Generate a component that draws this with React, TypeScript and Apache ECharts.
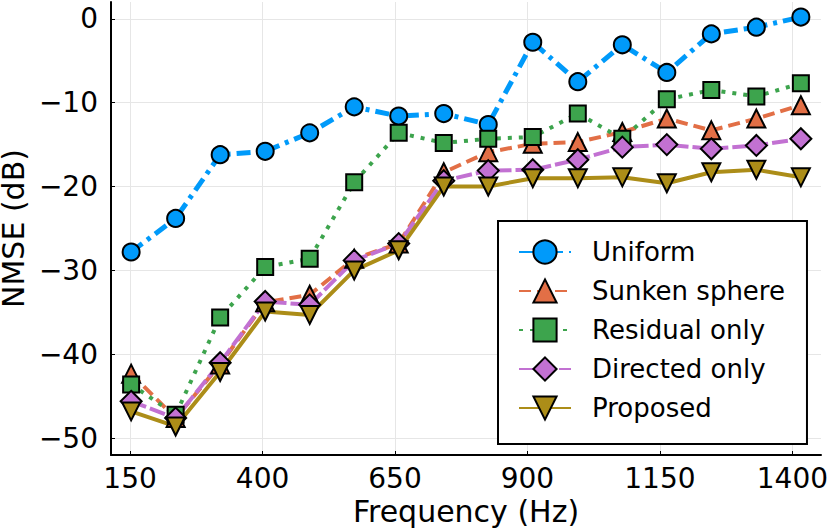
import React, { useEffect, useRef } from "react";
import * as echarts from "echarts";

const frequencies = [152, 236, 320, 405, 489, 573, 657, 742, 826, 910, 995, 1079, 1163, 1247, 1332, 1416];
const uniform = [-27.8, -23.8, -16.2, -15.8, -13.6, -10.5, -11.6, -11.3, -12.6, -2.8, -7.5, -3.1, -6.4, -1.8, -1.0, 0.2];
const sunkenSphere = [-42.3, -47.6, -41.2, -33.8, -32.9, -28.6, -26.8, -18.3, -15.9, -14.9, -14.7, -13.5, -11.9, -13.3, -11.9, -10.3];
const residualOnly = [-43.6, -47.2, -35.6, -29.6, -28.6, -19.5, -13.6, -14.8, -14.3, -14.1, -11.3, -14.3, -9.6, -8.5, -9.25, -7.7];
const directedOnly = [-45.6, -47.6, -41.0, -33.7, -34.1, -28.8, -26.8, -19.3, -18.1, -18.0, -16.8, -15.3, -15.0, -15.5, -15.1, -14.3];
const proposed = [-46.8, -48.6, -42.1, -34.9, -35.3, -30.0, -27.6, -20.0, -20.0, -19.0, -19.0, -18.9, -19.6, -18.3, -18.0, -18.9];

const xTicks = [150, 400, 650, 900, 1150, 1400];
const yTicks = [-50, -40, -30, -20, -10, 0];

const FONT = "DejaVu Sans";

function pairs(ys: number[]) {
  return ys.map((y, i) => [frequencies[i], y]);
}

export default function App() {
  const ref = useRef<HTMLDivElement>(null);
  useEffect(() => {
    document.body.style.margin = "0";
    const chart = echarts.init(ref.current!, null, { renderer: "svg" });
    const border = { borderColor: "#000", borderWidth: 2 };
    const mk = (
      name: string,
      data: number[],
      color: string,
      symbol: string,
      size: number,
      type: any,
      width: number,
      rotate = 0
    ) => ({
      name,
      type: "line",
      data: pairs(data),
      symbol,
      symbolSize: size,
      symbolRotate: rotate,
      showAllSymbol: true,
      lineStyle: { color, width, type },
      itemStyle: { color, ...border },
    });
    chart.setOption({
      animation: false,
      textStyle: { fontFamily: FONT },
      grid: { left: 111, right: 9, top: 2, bottom: 76, containLabel: false, outerBoundsMode: "none" },
      xAxis: {
        type: "value",
        min: 114,
        max: 1454,
        name: "Frequency (Hz)",
        nameLocation: "middle",
        nameGap: 37,
        nameTextStyle: { fontSize: 30, color: "#000", fontFamily: FONT },
        axisLine: { show: true, onZero: false, lineStyle: { color: "#000", width: 2 } },
        axisTick: { show: true, inside: true, length: 4, customValues: xTicks, lineStyle: { color: "#000" } },
        axisLabel: {
          customValues: xTicks,
          fontSize: 28,
          color: "#000",
          margin: 9,
          fontFamily: FONT,
          formatter: (v: number) => String(v),
        },
        splitLine: { show: true, lineStyle: { color: "#e6e6e6", width: 1 } },
      },
      yAxis: {
        type: "value",
        min: -52,
        max: 2,
        name: "NMSE (dB)",
        nameLocation: "middle",
        nameGap: 81,
        nameTextStyle: { fontSize: 30, lineHeight: 28, color: "#000", fontFamily: FONT },
        axisLine: { show: true, onZero: false, lineStyle: { color: "#000", width: 2 } },
        axisTick: { show: true, inside: true, length: 4, customValues: yTicks, lineStyle: { color: "#000" } },
        axisLabel: {
          customValues: yTicks,
          fontSize: 28,
          color: "#000",
          margin: 13,
          fontFamily: FONT,
          formatter: (v: number) => String(v).replace("-", "\u2212"),
        },
        splitLine: { show: true, lineStyle: { color: "#e6e6e6", width: 1 } },
      },
      legend: {
        orient: "vertical",
        left: 498,
        top: 221,
        padding: [18, 22, 23, 20],
        itemWidth: 52,
        itemHeight: 29,
        itemGap: 13,
        borderColor: "#000",
        borderWidth: 2,
        backgroundColor: "#fff",
        textStyle: { fontSize: 26, color: "#000", fontFamily: FONT, padding: [0, 0, 0, 16] },
        data: ["Uniform", "Sunken sphere", "Residual only", "Directed only", "Proposed"],
      },
      series: [
        mk("Uniform", uniform, "#009AFA", "circle", 17, [14, 6, 4, 6], 5),
        mk("Sunken sphere", sunkenSphere, "#E26F46", "triangle", 18, [12, 6], 4),
        mk("Residual only", residualOnly, "#3DA44D", "rect", 16, [4, 7], 4),
        mk("Directed only", directedOnly, "#C271D2", "diamond", 21, [16, 4], 4),
        mk("Proposed", proposed, "#AC8D18", "triangle", 18, "solid", 4, 180),
      ],
    });
    return () => chart.dispose();
  }, []);
  return <div ref={ref} style={{ width: 830, height: 531 }} />;
}
